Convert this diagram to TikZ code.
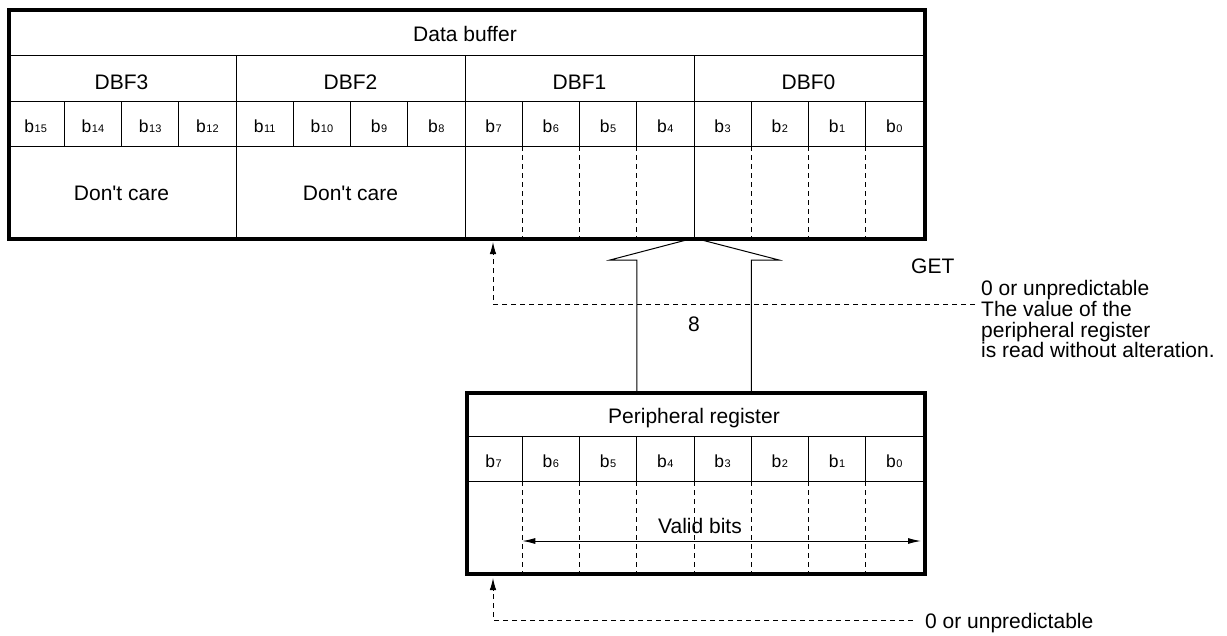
\documentclass[tikz,border=0pt]{standalone}
\usepackage{fontspec}
\setmainfont{Liberation Sans}
\usetikzlibrary{arrows.meta}
\newcommand\bitlabel[1]{{\fontsize{17.5}{19}\selectfont b}\kern0.6pt{\fontsize{11}{12}\selectfont #1}}
\begin{document}
\begin{tikzpicture}[x=1pt,y=-1pt,
  txt/.style={font=\fontsize{21}{25}\selectfont, inner sep=0pt, anchor=base},
  bitlbl/.style={inner sep=0pt, anchor=base},
  gridline/.style={line width=1pt},
  dashgrid/.style={line width=1pt, dash pattern=on 5pt off 4pt},
  frame/.style={draw, line width=3.5pt, inner sep=0pt, anchor=north west},
  leader/.style={line width=1pt, dash pattern=on 5pt off 4pt, -{Latex[length=12pt,width=6.5pt]}},
  dimline/.style={line width=1pt, {Latex[length=13pt,width=6pt]}-{Latex[length=13pt,width=6pt]}},
  outline/.style={line width=1pt, line join=miter}
]
\useasboundingbox (0,0) rectangle (1227,635);
% ---------- data buffer grid ----------
\draw[gridline] (7,55) -- (923,55) (7,101) -- (923,101) (7,146) -- (923,146);
\foreach \k in {4,8,12} \draw[gridline] ({7+57.25*\k},55) -- ({7+57.25*\k},237);
\foreach \k in {1,2,3,5,6,7,9,10,11,13,14,15} \draw[gridline] ({7+57.25*\k},101) -- ({7+57.25*\k},146);
\foreach \k in {9,10,11,13,14,15} \draw[dashgrid] ({7+57.25*\k},146) -- ({7+57.25*\k},237);
\node[txt] (dbtitle) at (465,41.7) {Data buffer};
\foreach \i/\n in {0/3,1/2,2/1,3/0} \node[txt] (dbf\n) at ({7+57.25*(4*\i+2)},89) {DBF\n};
\foreach \k in {0,...,15} {
  \pgfmathtruncatemacro\bb{15-\k}
  \node[bitlbl] (db\bb) at ({7+57.25*(\k+0.5)},132.5) {\bitlabel{\bb}};
}
\node[txt] (dc3) at (121.5,200) {Don\textquotesingle t care};
\node[txt] (dc2) at (350.5,200) {Don\textquotesingle t care};
\node[frame, minimum width=916pt, minimum height=229pt] (dbuf) at (7,8) {};
% ---------- peripheral register ----------
\draw[gridline] (465,436) -- (923,436) (465,481) -- (923,481);
\foreach \j in {1,...,7} {
  \draw[gridline] ({465+57.25*\j},436) -- ({465+57.25*\j},481);
  \draw[dashgrid] ({465+57.25*\j},481) -- ({465+57.25*\j},572);
}
\node[txt] (ptitle) at (694,423) {Peripheral register};
\foreach \j in {0,...,7} {
  \pgfmathtruncatemacro\bb{7-\j}
  \node[bitlbl] (pb\bb) at ({465+57.25*(\j+0.5)},467.5) {\bitlabel{\bb}};
}
\node[txt] (valid) at (700,533) {Valid bits};
\coordinate (vl) at (522.25,541);
\coordinate (vr) at (921,541);
\draw[dimline] (vl) -- (vr);
\node[frame, minimum width=458pt, minimum height=181pt] (preg) at (465,391) {};
% ---------- transfer arrow ----------
\coordinate (tipA) at (694,238);
\coordinate (shL) at (636.75,391);
\coordinate (shR) at (751.25,391);
\coordinate (hdL) at (610,260);
\coordinate (hdR) at (779,260);
\draw[outline] (shL) -- (shL |- hdL) -- (hdL) -- (tipA) -- (hdR) -- (shR |- hdR) -- (shR);
\node[txt] (eight) at (694,331) {8};
\node[txt, anchor=base west] (get) at (911,273) {GET};
% ---------- notes ----------
\node[font=\fontsize{21}{20.8}\selectfont, inner sep=0pt, anchor=north west, align=left] (note1) at (981,280)
  {0 or unpredictable\\The value of the\\peripheral register\\is read without alteration.};
\coordinate (l1) at (975,304);
\coordinate (t1) at (493,242);
\draw[leader] (l1) -| (t1);
\node[txt, anchor=base west] (note2) at (925,628) {0 or unpredictable};
\coordinate (l2) at (913,620);
\coordinate (t2) at (493,578);
\draw[leader] (l2) -| (t2);
\end{tikzpicture}
\end{document}
